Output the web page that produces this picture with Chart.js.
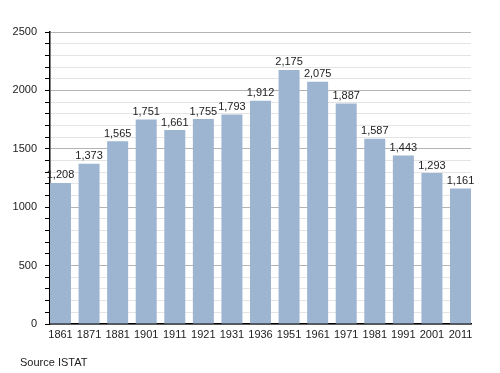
<!DOCTYPE html>
<html><head><meta charset="utf-8">
<script src="https://cdn.jsdelivr.net/npm/chart.js@4/dist/chart.umd.min.js"></script>
<style>
html,body{margin:0;padding:0;background:#fff;}
#wrap{position:relative;width:500px;height:373px;}
#src{position:absolute;left:20px;top:356px;font:11px "Liberation Sans",Arial,sans-serif;color:#222;}
</style></head>
<body>
<div id="wrap"><canvas id="c" width="500" height="373"></canvas><div id="src">Source ISTAT</div></div>
<script>
const years = ["1861","1871","1881","1901","1911","1921","1931","1936","1951","1961","1971","1981","1991","2001","2011"];
const population = [1208,1373,1565,1751,1661,1755,1793,1912,2175,2075,1887,1587,1443,1293,1161];
const yTicks = [0,500,1000,1500,2000,2500];

const labelPlugin = {
  id:'barLabels',
  afterDatasetsDraw(chart){
    const ctx = chart.ctx;
    const meta = chart.getDatasetMeta(0);
    ctx.save();
    ctx.font = '11px "Liberation Sans", Arial, sans-serif';
    ctx.fillStyle = '#222';
    ctx.textAlign = 'center';
    ctx.textBaseline = 'bottom';
    meta.data.forEach((bar,i)=>{
      ctx.fillText(population[i].toLocaleString('en-US'), bar.x, bar.y - 2);
    });
    ctx.restore();
  }
};

new Chart(document.getElementById('c'),{
  type:'bar',
  data:{datasets:[{data:population.map((v,i)=>({x:i,y:v})),backgroundColor:'#9db5d1',borderWidth:0,barPercentage:0.735,categoryPercentage:1}]},
  options:{
    responsive:false,animation:false,
    layout:{padding:{top:32,right:29,left:0,bottom:0}},
    plugins:{legend:{display:false},tooltip:{enabled:false}},
    scales:{
      x:{
        type:'linear',min:-0.3675,max:14.3675,offset:false,
        grid:{display:false,drawTicks:false},
        border:{color:'#000',width:1.5},
        afterBuildTicks(s){ s.ticks = years.map((_,i)=>({value:i})); },
        ticks:{color:'#222',font:{family:'"Liberation Sans", Arial, sans-serif',size:11},padding:4,maxRotation:0,autoSkip:false,
          callback:(v)=> years[v] ?? ''},
        afterFit(s){s.height=49;}
      },
      y:{
        min:0,max:2500,
        grid:{color:(c)=> (c.tick && c.tick.value%500===0) ? '#b4b4b4' : '#e4e4e4', tickColor:'#000', tickLength:5, lineWidth:1},
        border:{color:'#000',width:1.5},
        ticks:{stepSize:100,autoSkip:false,color:'#222',font:{family:'"Liberation Sans", Arial, sans-serif',size:11},padding:8,
          callback:(v)=> yTicks.includes(v) ? String(v) : ''},
        afterFit(s){s.width=50;}
      }
    }
  },
  plugins:[labelPlugin]
});
</script>
</body></html>
